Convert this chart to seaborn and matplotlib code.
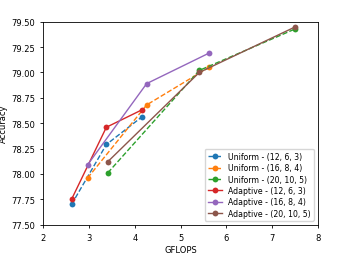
import pandas as pd
import seaborn as sb
import matplotlib.pyplot as plt

# data
lsNames = ["Uniform - (12, 6, 3)", "Uniform - (16, 8, 4)", "Uniform - (20, 10, 5)",
           "Adaptive - (12, 6, 3)", "Adaptive - (16, 8, 4)", "Adaptive - (20, 10, 5)"]
gflops_small = [2.62, 3.38, 4.15]
gflops_mid = [2.97, 4.26, 5.62]
gflops_large = [3.41, 5.41, 7.51]
acc_uniform_small = [77.70, 78.29, 78.56]
acc_uniform_mid = [77.96, 78.68, 79.05]
acc_uniform_large = [78.01, 79.02, 79.43]
acc_adaptive_small = [77.75, 78.46, 78.63]
acc_adaptive_mid = [78.09, 78.89, 79.19]
acc_adaptive_large = [78.12, 79.00, 79.45]

lsX = [gflops_small, gflops_mid, gflops_large] * 2
lsY = [acc_uniform_small, acc_uniform_mid, acc_uniform_large,
       acc_adaptive_small, acc_adaptive_mid, acc_adaptive_large]
lsDash = ["--", "--", "--", "-", "-", "-"]
lsColors = sb.color_palette("tab10", 6)

# set figure size
fig = plt.figure(figsize=(3.54, 2.55), dpi=100, facecolor='w')
oAx = fig.add_axes([0.122, 0.115, 0.776, 0.796])

for i in range(6):
    oData = pd.DataFrame({"GFLOPS": lsX[i], "Accuracy": lsY[i]})
    sb.lineplot(x="GFLOPS", y="Accuracy", data=oData, ax=oAx, color=lsColors[i],
                linestyle=lsDash[i], marker="o", markersize=4.2, markeredgewidth=0,
                linewidth=1, label=lsNames[i])

oAx.set_xlim(2, 8)
oAx.set_ylim(77.5, 79.5)
oAx.set_yticks([77.5, 77.75, 78.0, 78.25, 78.5, 78.75, 79.0, 79.25, 79.5])
oAx.set_yticklabels(["%.2f" % v for v in oAx.get_yticks()])
oAx.tick_params(labelsize=6, length=2.5, width=0.6)
oAx.set_xlabel("GFLOPS", fontsize=6, labelpad=2)
oAx.set_ylabel("Accuracy", fontsize=6, labelpad=2)
for s in oAx.spines.values():
    s.set_linewidth(0.6)
oAx.legend(loc="lower right", fontsize=5.6, handlelength=1.8, borderpad=0.4,
           labelspacing=0.3, framealpha=0.8)

fig.savefig("out.png", dpi=100)
